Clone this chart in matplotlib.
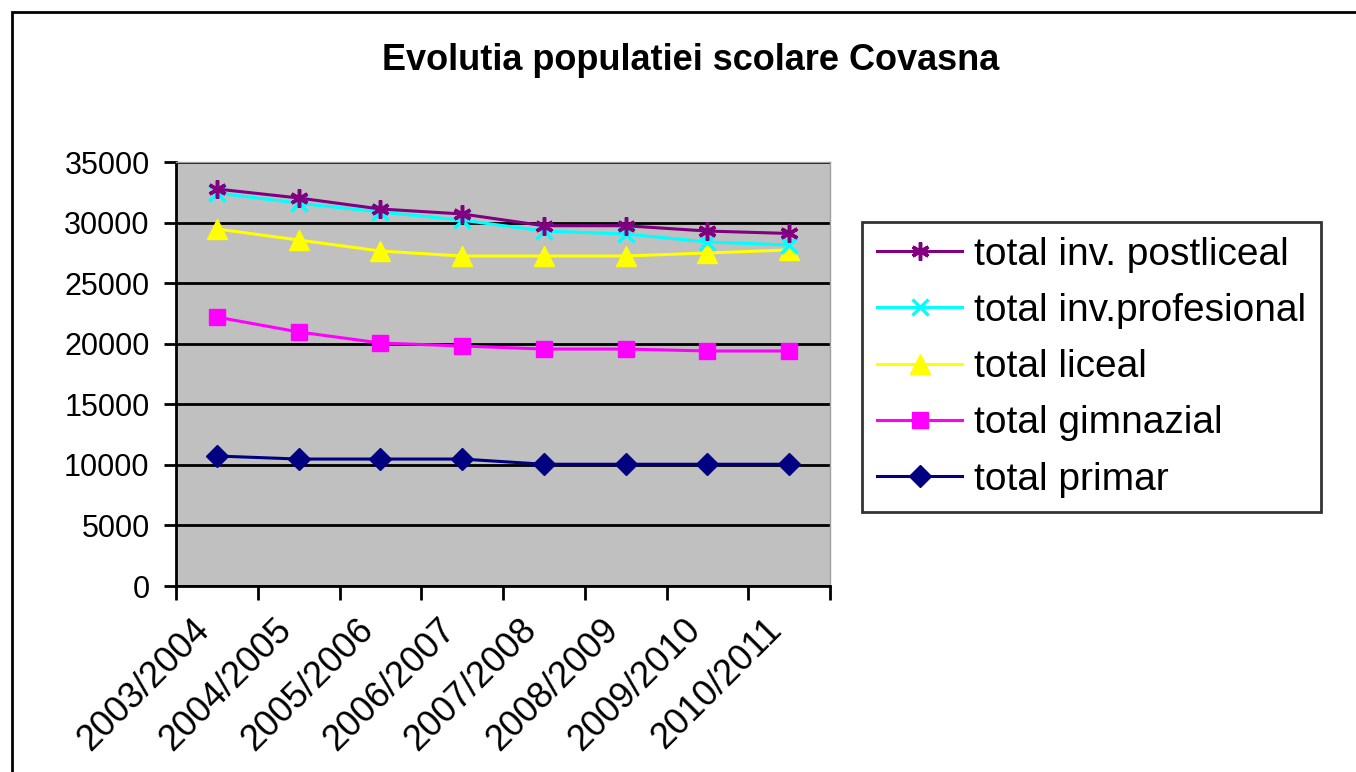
import matplotlib.pyplot as plt
from matplotlib.patches import Rectangle

plt.rcParams['font.family'] = ['Liberation Sans', 'DejaVu Sans']

years = ['2003/2004', '2004/2005', '2005/2006', '2006/2007',
         '2007/2008', '2008/2009', '2009/2010', '2010/2011']

primar = [10730, 10480, 10480, 10480, 10050, 10050, 10050, 10050]
gimnazial = [22200, 20970, 20060, 19810, 19560, 19560, 19400, 19400]
liceal = [29470, 28560, 27650, 27240, 27240, 27240, 27490, 27740]
profesional = [32440, 31600, 30870, 30200, 29300, 29060, 28400, 28150]
postliceal = [32770, 32030, 31120, 30710, 29740, 29740, 29300, 29100]

fig = plt.figure(figsize=(13.56, 7.72), dpi=100)
ax = fig.add_axes([176 / 1356, 1 - 586 / 772, 654 / 1356, 424 / 772])
ax.set_facecolor('#C0C0C0')

x = [i + 0.5 for i in range(len(years))]

ax.plot(x, primar, color='#000080', lw=2.2, marker='D', ms=11, label='total primar')
ax.plot(x, gimnazial, color='#FF00FF', lw=2.2, marker='s', ms=12, label='total gimnazial')
ax.plot(x, liceal, color='#FFFF00', lw=2.2, marker='^', ms=14, label='total liceal')
ax.plot(x, profesional, color='#00FFFF', lw=2.2, marker='x', ms=11, mew=2.5,
        label='total inv.profesional')
ax.plot(x, postliceal, color='#800080', lw=2.2, marker=(6, 2, 0), ms=13, mew=2.5,
        label='total inv. postliceal')

ax.set_xlim(0, len(years))
ax.set_ylim(0, 35000)
ax.set_yticks(range(0, 35001, 5000))
ax.yaxis.grid(True, color='black', lw=2)
ax.set_axisbelow(True)

# labels at category centres, ticks on category boundaries
ax.set_xticks(x)
ax.set_xticklabels(years, rotation=45, ha='right', va='top', fontsize=26)
ax.set_xticks(range(len(years) + 1), minor=True)
ax.tick_params(axis='x', which='major', length=0, pad=19)
ax.tick_params(axis='x', which='minor', length=10, width=2, direction='out')
ax.tick_params(axis='y', labelsize=22, length=9, width=2, pad=10)

for side in ['top', 'right']:
    ax.spines[side].set_color('#A0A0A0')
    ax.spines[side].set_linewidth(1)
for side in ['left', 'bottom']:
    ax.spines[side].set_linewidth(2)

fig.text(691 / 1356, 1 - 60 / 772, 'Evolutia populatiei scolare Covasna',
         ha='center', va='center', fontsize=26, fontweight='bold')

handles, labels = ax.get_legend_handles_labels()
leg = fig.legend(handles[::-1], labels[::-1], loc='upper left',
                 bbox_to_anchor=(862 / 1356, 1 - 222 / 772),
                 fontsize=28, frameon=True, fancybox=False,
                 edgecolor='black', handlelength=2.2, labelspacing=0.52,
                 borderpad=0.38, handletextpad=0.3, borderaxespad=0)
leg.get_frame().set_linewidth(2)

fig.patches.append(Rectangle((12 / 1356, -0.1), 1.2, 1.1 - 12 / 772,
                             transform=fig.transFigure, fill=False,
                             edgecolor='black', lw=2))

fig.savefig('out.png', dpi=100)
